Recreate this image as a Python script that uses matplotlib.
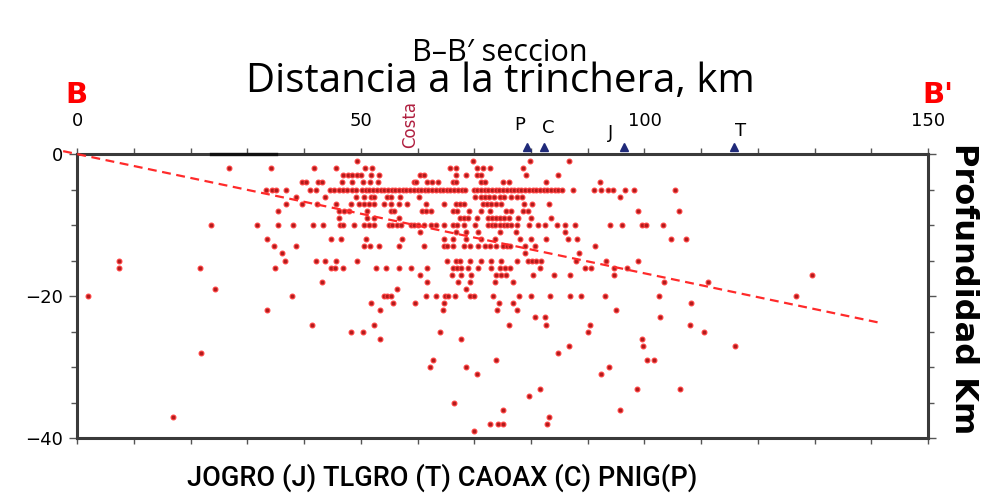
#%%
import matplotlib
matplotlib.use('Agg')
import matplotlib.pyplot as plt
from matplotlib.ticker import MultipleLocator

#%% Sismos: distancia a la trinchera (km) agrupada por profundidad (km)
x_1 = [49.3, 69.7, 79.8, 86.7]
x_2 = [26.8, 34.2, 41.8, 45.6, 50.7, 51.9, 65.8, 66.8, 70.4, 71.6, 72.8, 78.6]
x_3 = [46.8, 47.7, 48.4, 49.3, 50.1, 51.8, 53.2, 60.5, 61.1, 66.8, 68.6, 70.4,
       71.2, 79.2, 84.7]
x_4 = [39.6, 40.3, 42.5, 43.2, 46.6, 48.4, 50.3, 51.6, 53.1, 59.3, 59.8, 61.6,
       62.6, 63.6, 66.3, 66.8, 71.2, 71.9, 75.1, 76.1, 82.6, 92.1]
x_5 = [33.3, 34.4, 35.1, 36.8, 41.0, 42.1, 44.6, 45.3, 46.1, 46.8, 47.6, 48.4,
       49.1, 50.2, 50.9, 51.5, 52.2, 52.8, 53.5, 54.1, 54.8, 55.4, 56.1, 56.7,
       57.4, 58.0, 58.7, 59.3, 60.0, 60.6, 61.3, 61.9, 62.6, 63.2, 63.9, 64.5,
       65.2, 65.8, 66.5, 67.1, 67.8, 68.4, 69.9, 70.5, 71.2, 71.8, 72.5, 73.1,
       73.8, 74.4, 75.1, 75.7, 76.4, 77.0, 77.7, 78.3, 79.0, 79.6, 80.3, 80.9,
       81.6, 82.2, 82.9, 83.5, 84.2, 84.8, 85.4, 87.4, 91.1, 92.3, 93.6, 94.4,
       96.5, 98.1, 105.3]
x_6 = [38.6, 43.7, 49.1, 50.6, 51.8, 52.4, 54.6, 55.3, 56.9, 60.2, 70.2, 71.1,
       71.9, 72.6, 73.5, 74.6, 75.3, 76.4, 77.5, 78.4, 95.6]
x_7 = [36.8, 39.7, 42.2, 45.6, 48.2, 49.6, 50.6, 51.5, 52.4, 54.0, 55.3, 56.7,
       58.1, 61.4, 64.6, 66.7, 67.5, 68.2, 71.6, 72.3, 73.0, 73.9, 74.7, 78.8,
       80.2, 83.2]
x_8 = [35.3, 46.1, 47.1, 47.9, 51.0, 55.3, 55.9, 60.7, 61.4, 62.3, 66.3, 66.9,
       69.1, 71.2, 72.8, 75.6, 76.4, 78.6, 79.5, 98.9, 106.1]
x_9 = [46.1, 51.0, 52.3, 56.7, 67.5, 68.1, 68.9, 70.4, 72.5, 73.2, 73.9, 74.6,
       75.3, 76.1, 77.7, 80.0, 83.5]
x_10 = [23.5, 31.6, 35.3, 38.1, 41.6, 43.3, 46.3, 46.9, 48.8, 50.5, 51.4, 52.3,
        54.9, 55.5, 56.3, 57.0, 58.8, 59.4, 60.0, 61.1, 62.3, 63.2, 64.6, 66.3,
        66.9, 68.1, 70.2, 72.5, 73.1, 73.7, 74.6, 75.2, 75.8, 76.5, 77.5, 79.6,
        81.2, 82.5, 84.6, 86.0, 87.7, 94.0, 96.1, 99.6, 100.3, 103.3]
x_11 = [60.4, 66.8, 68.6, 70.7, 74.6, 77.4, 86.0]
x_12 = [33.5, 44.7, 46.5, 50.9, 57.2, 64.6, 66.3, 68.6, 71.1, 73.7, 78.1, 80.0,
        82.6, 86.5, 88.1, 104.7, 107.4]
x_13 = [34.6, 38.6, 50.5, 51.6, 53.2, 56.7, 61.1, 64.6, 65.2, 66.3, 68.1, 69.3,
        70.7, 71.8, 72.8, 73.9, 75.1, 75.7, 76.3, 78.9, 80.7, 91.2]
x_14 = [36.1, 78.9, 88.4]
x_15 = [7.4, 36.7, 42.1, 43.6, 45.6, 49.3, 65.1, 66.7, 67.5, 69.3, 71.1, 73.0,
        74.7, 77.5, 79.5, 80.2, 80.9, 81.8, 87.9, 93.2, 98.9]
x_16 = [7.4, 21.7, 34.9, 44.8, 45.4, 46.8, 52.6, 54.4, 56.7, 58.9, 61.6, 66.3,
        66.9, 67.7, 68.9, 70.7, 73.0, 74.6, 75.4, 76.3, 81.6, 89.6, 90.5, 94.7,
        97.0]
x_17 = [60.5, 66.0, 67.7, 69.5, 73.9, 74.7, 75.6, 80.4, 84.0, 86.8, 94.7, 129.6]
x_18 = [43.2, 61.6, 67.2, 69.3, 73.7, 76.8, 103.5, 111.2]
x_19 = [24.2, 56.3, 68.6]
x_20 = [1.9, 37.9, 54.0, 54.6, 55.3, 61.4, 63.2, 64.8, 65.4, 66.6, 69.3, 69.9,
        73.3, 77.8, 80.0, 83.3, 86.8, 88.8, 93.0, 102.6, 126.7]
x_21 = [51.8, 55.6, 59.6, 64.6, 74.4, 76.8, 108.2]
x_22 = [33.5, 53.3, 64.4, 74.0, 77.5, 94.9]
x_23 = [80.7, 82.5, 102.8]
x_24 = [41.4, 52.3, 76.1, 82.6, 90.4, 108.1]
x_25 = [48.2, 50.4, 64.0, 90.0, 110.5]
x_26 = [53.3, 67.7, 99.6]
x_27 = [86.7, 99.8, 116.0]
x_28 = [21.8, 84.7]
x_29 = [62.8, 73.9, 100.4, 101.6]
x_30 = [62.1, 68.6, 93.7]
x_31 = [70.4, 92.3]
x_33 = [81.6, 98.7, 106.2]
x_34 = [79.6]
x_35 = [66.5]
x_36 = [75.1, 95.6]
x_37 = [16.8, 83.2]
x_38 = [72.8, 74.2, 75.0, 82.8]
x_39 = [70.0]

rows = [(1, x_1), (2, x_2), (3, x_3), (4, x_4), (5, x_5), (6, x_6), (7, x_7),
        (8, x_8), (9, x_9), (10, x_10), (11, x_11), (12, x_12), (13, x_13),
        (14, x_14), (15, x_15), (16, x_16), (17, x_17), (18, x_18), (19, x_19),
        (20, x_20), (21, x_21), (22, x_22), (23, x_23), (24, x_24), (25, x_25),
        (26, x_26), (27, x_27), (28, x_28), (29, x_29), (30, x_30), (31, x_31),
        (33, x_33), (34, x_34), (35, x_35), (36, x_36), (37, x_37), (38, x_38),
        (39, x_39)]

# tendencia de la placa (linea discontinua)
slab_x = [-2.5, 141.8]
slab_y = [0.4, -23.8]

# estaciones
sta_names = ['P', 'C', 'J', 'T']
sta_x = [79.3, 82.3, 96.4, 115.8]
sta_lbl_x = [78.0, 83.0, 94.0, 117.0]
sta_lbl_y = [4.1, 3.7, 3.0, 3.2]
costa_x = 58.7
coast_bar = [23.5, 35.0]

#%%
dist = []
prof = []
for d, xs in rows:
    dist += xs
    prof += [-d] * len(xs)

fig = plt.figure(figsize=(9.9, 4.94), dpi=100, facecolor='w')
ax = fig.add_axes([0.0781, 0.1128, 0.8593, 0.5755])

ax.scatter(dist, prof, s=12, facecolor='#b01c1c', edgecolor='#ff4040',
           linewidth=0.8, zorder=3)
ax.plot(slab_x, slab_y, color='#ff2a2a', lw=1.6, ls=(0, (4, 2.5)),
        clip_on=False, zorder=4)

ax.set_xlim(0, 150)
ax.set_ylim(-40, 0)
for s in ax.spines.values():
    s.set_linewidth(2.2)
    s.set_color('#3a3a3a')

ax.xaxis.set_major_locator(MultipleLocator(50))
ax.xaxis.set_minor_locator(MultipleLocator(10))
ax.yaxis.set_major_locator(MultipleLocator(20))
ax.yaxis.set_minor_locator(MultipleLocator(5))
ax.tick_params(axis='x', which='both', top=True, bottom=True, labeltop=True,
               labelbottom=False, direction='out', length=4, width=1,
               color='#555555', labelsize=13, pad=13)
ax.tick_params(axis='y', which='both', left=True, right=True, direction='out',
               length=4, width=1, color='#555555', labelsize=13, pad=4)
ax.tick_params(axis='y', which='major', length=6)
ax.set_yticks([-40, -20, 0])
ax.set_yticklabels(['\u221240', '\u221220', '0'])

# barra costa sobre el eje
ax.plot(coast_bar, [0, 0], color='#111111', lw=2.4, clip_on=False, zorder=5)

ax.plot(sta_x, [1.0] * len(sta_x), '^', color='#1f2a7a', ms=6,
        clip_on=False, zorder=6)
for n, lx, ly in zip(sta_names, sta_lbl_x, sta_lbl_y):
    ax.text(lx, ly, n, fontsize=13, ha='center', va='center', clip_on=False)
ax.text(costa_x, 4.2, 'Costa', rotation=90, color='#b02040', fontsize=12,
        ha='center', va='center', clip_on=False)

fig.text(0.505, 0.877, 'B\u2013B\u2032 seccion', fontsize=22,
         family='Open Sans', ha='center', va='baseline')
fig.text(0.505, 0.814, 'Distancia a la trinchera, km', fontsize=29,
         family='Open Sans', ha='center', va='baseline')
fig.text(0.077, 0.808, 'B', color='#ff0000', fontsize=21, weight='bold',
         ha='center', va='center')
fig.text(0.947, 0.808, "B'", color='#ff0000', fontsize=21, weight='bold',
         ha='center', va='center')
fig.text(0.973, 0.415, 'Profundidad Km', rotation=-90, fontsize=23,
         weight='bold', ha='center', va='center')
fig.text(0.447, 0.032, 'JOGRO (J) TLGRO (T) CAOAX (C) PNIG(P)', fontsize=19.5,
         family='Roboto', weight='medium', ha='center', va='center')

plt.savefig('out.png', dpi=100)
